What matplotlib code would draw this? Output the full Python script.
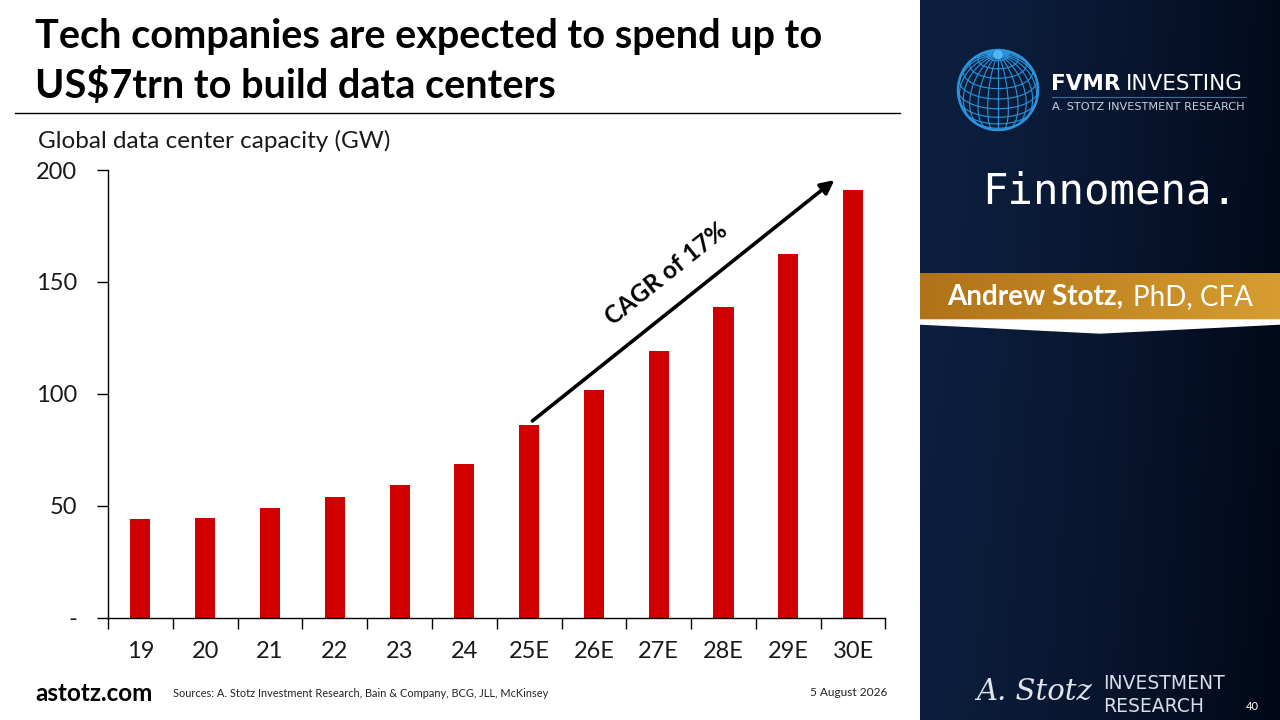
import numpy as np
import matplotlib.pyplot as plt
from matplotlib.patches import Circle, Polygon

# chart data
years = ["19", "20", "21", "22", "23", "24", "25E", "26E", "27E", "28E", "29E", "30E"]
capacity_gw = [44.0, 44.4, 48.9, 53.9, 59.4, 68.8, 86.1, 101.6, 119.1, 138.7, 162.3, 190.9]
y_ticks = [0, 50, 100, 150, 200]
y_tick_labels = ["-", "50", "100", "150", "200"]

title_lines = ["Tech companies are expected to spend up to", "US$7trn to build data centers"]
y_title = "Global data center capacity (GW)"
cagr_label = "CAGR of 17%"
sources = "Sources: A. Stotz Investment Research, Bain & Company, BCG, JLL, McKinsey"
date_label = "5 August 2026"
page_no = "40"

W, H = 1280, 720
plt.rcParams['font.family'] = ['Lato', 'DejaVu Sans']

fig = plt.figure(figsize=(12.8, 7.2), dpi=100)
fig.patch.set_facecolor('white')


def fx(px):
    return px / W


def fy(py):
    return 1 - py / H


# title + rule
fig.text(fx(35), fy(48), title_lines[0], fontsize=28.5, fontweight='bold', va='baseline')
fig.text(fx(35), fy(98), title_lines[1], fontsize=28.5, fontweight='bold', va='baseline')
fig.add_artist(plt.Line2D([fx(15), fx(900)], [fy(113), fy(113)], color='black', lw=1))

fig.text(fx(38), fy(141), y_title, fontsize=17.5, va='center', color='#1a1a1a')

# bar chart
ax = fig.add_axes([fx(108), fy(617.7), 777.5 / W, 447.7 / H])
x = np.arange(len(years))
ax.bar(x, capacity_gw, width=0.31, color='#d10000')
ax.set_xlim(-0.5, len(years) - 0.5)
ax.set_ylim(0, 200)

ax.set_xticks(np.arange(-0.5, len(years), 1))
ax.set_xticklabels([])
ax.set_xticks(x, minor=True)
ax.set_xticklabels(years, minor=True)
ax.tick_params(axis='x', which='major', length=8, width=1)
ax.tick_params(axis='x', which='minor', length=0, pad=17, labelsize=17, labelcolor='#1a1a1a')
ax.set_yticks(y_ticks, y_tick_labels)
ax.tick_params(axis='y', length=8, width=1, pad=14, labelsize=17, labelcolor='#1a1a1a')
for s in ['top', 'right']:
    ax.spines[s].set_visible(False)
for s in ['left', 'bottom']:
    ax.spines[s].set_linewidth(1)

ax.annotate('', xy=(10.71, 195.5), xytext=(6.05, 87.9),
            arrowprops=dict(arrowstyle='-|>', lw=2.6, color='black', mutation_scale=20,
                            shrinkA=0, shrinkB=0))
ax.text(8.12, 153.5, cagr_label, fontsize=17.5, fontweight='bold', rotation=38.6,
        ha='center', va='center', rotation_mode='anchor')

# footer
fig.text(fx(35), fy(701), "astotz.com", fontsize=17.5, fontweight='bold', va='baseline')
fig.text(fx(173), fy(697), sources, fontsize=7.9, va='baseline', color='#222222')
fig.text(fx(810), fy(696), date_label, fontsize=8.6, va='baseline', color='#222222')

# right side panel
pax = fig.add_axes([fx(920), 0, 360 / W, 1])
pax.set_xlim(920, 1280)
pax.set_ylim(720, 0)
pax.axis('off')

gx = np.linspace(0, 1, 200)
gy = np.linspace(0, 1, 200)
GX, GY = np.meshgrid(gx, gy)
left_c = np.array([13, 32, 64]) / 255
right_c = np.array([2, 8, 24]) / 255
t = np.clip(GX ** 1.4 * 0.9 + GY * 0.12, 0, 1)[..., None]
grad = left_c * (1 - t) + right_c * t
pax.imshow(grad, extent=(920, 1280, 720, 0), aspect='auto', zorder=0)

# globe
cx, cy, r = 998, 90, 40
tilt = np.radians(28)
blue = '#2a93dc'


def project(lon, lat):
    xs = np.cos(lat) * np.sin(lon)
    ys = np.sin(lat)
    zs = np.cos(lat) * np.cos(lon)
    y2 = ys * np.cos(tilt) - zs * np.sin(tilt)
    z2 = ys * np.sin(tilt) + zs * np.cos(tilt)
    px = cx + r * xs
    py = cy - r * y2
    px = np.where(z2 >= 0, px, np.nan)
    return px, py


s = np.linspace(0, 2 * np.pi, 200)
for lat_deg in range(-75, 90, 15):
    px, py = project(s, np.full_like(s, np.radians(lat_deg)))
    pax.plot(px, py, color=blue, lw=0.8, zorder=2)
l = np.linspace(-np.pi / 2, np.pi / 2, 120)
for lon_deg in range(0, 360, 15):
    px, py = project(np.full_like(l, np.radians(lon_deg)), l)
    pax.plot(px, py, color=blue, lw=0.8, zorder=2)
pax.add_patch(Circle((cx, cy), r, fill=False, ec=blue, lw=1.8, zorder=3))
ppx, ppy = project(np.array([0.0]), np.array([np.pi / 2]))
pax.add_patch(Circle((ppx[0], ppy[0]), 4, color='#5cc0ff', alpha=0.8, zorder=3))

pax.text(1051, 90, "FVMR", fontsize=15.5, fontweight='bold', color='white',
         family='DejaVu Sans', va='baseline', zorder=4)
pax.text(1126, 90, "INVESTING", fontsize=15.5, color='white',
         family='DejaVu Sans', va='baseline', zorder=4)
pax.plot([1052, 1246], [96.5, 96.5], color='#3d6f9e', lw=0.8, zorder=4)
pax.text(1052, 110, "A. STOTZ INVESTMENT RESEARCH", fontsize=8.1, color='#c9d1dc',
         family='DejaVu Sans', va='baseline', zorder=4)

pax.text(982, 203, "Finnomena.", fontsize=30.5, color='white',
         family='DejaVu Sans Mono', va='baseline', zorder=4)

# gold band
band = np.linspace(0, 1, 200)[None, :, None]
gold_l = np.array([176, 114, 24]) / 255
gold_r = np.array([214, 158, 48]) / 255
pax.imshow(gold_l * (1 - band) + gold_r * band, extent=(920, 1280, 320, 273),
           aspect='auto', zorder=1)
swoosh = Polygon([[920, 320], [1280, 320], [1280, 324], [1100, 333], [920, 324]],
                 closed=True, color='white', zorder=2)
pax.add_patch(swoosh)
pax.text(947, 305, "Andrew Stotz,", fontsize=20, fontweight='bold', color='white',
         va='baseline', zorder=4)
pax.text(1133, 305, "PhD, CFA", fontsize=20, color='white', va='baseline', zorder=4)

# bottom logo
pax.text(976, 700, "A. Stotz", fontsize=21, color='#dfe3ea', family='DejaVu Serif',
         style='italic', va='baseline', zorder=4)
pax.text(1103, 689, "INVESTMENT", fontsize=13.5, color='#d8dde6', va='baseline',
         family='DejaVu Sans', zorder=4)
pax.text(1103, 712, "RESEARCH", fontsize=13.5, color='#d8dde6', va='baseline',
         family='DejaVu Sans', zorder=4)
pax.text(1246, 710, page_no, fontsize=8, color='white', va='baseline', zorder=4)

fig.savefig("out.png", dpi=100)
